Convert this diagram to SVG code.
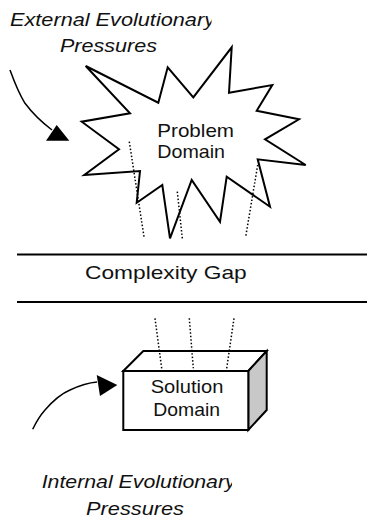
<svg xmlns="http://www.w3.org/2000/svg" width="367" height="521" viewBox="0 0 367 521">
<style>
.t{font-family:"Liberation Sans",Arial,sans-serif;font-size:19px;fill:#111}
.i{font-style:italic}
.s{fill:#fff;stroke:#000;stroke-width:2;stroke-linejoin:miter}
.d{stroke:#000;stroke-width:1.5;stroke-dasharray:1.5 2;fill:none}
.c{fill:none;stroke:#000;stroke-width:1.5}
.h{stroke:#000;stroke-width:2}
</style>
<defs>
<clipPath id="c1"><rect x="0" y="0" width="211.5" height="40"/></clipPath>
<clipPath id="c2"><rect x="0" y="460" width="232" height="40"/></clipPath>
</defs>
<rect width="367" height="521" fill="#fff"/>
<g id="ext-label">
<text class="t i" x="10" y="26" font-size="20" textLength="205" lengthAdjust="spacingAndGlyphs" clip-path="url(#c1)">External Evolutionary</text>
<text class="t i" x="60" y="52" font-size="20" textLength="97" lengthAdjust="spacingAndGlyphs">Pressures</text>
</g>
<g id="problem">
<polygon class="s" points="85.7,66 158.3,102.7 167.7,67.3 193.3,97.3 231.7,47.3 229,92.7 272.3,85 256.7,110.7 299,119.3 265,139.3 305.7,165 257.7,159.3 270,206.7 226.7,176.7 220,221.7 191.7,180 170,238.3 162.3,185 136.7,202.7 140,171 84.3,175 119,149.3 81.7,121.7 130,113.3"/>
<text class="t" x="157.3" y="136.5" font-size="18.5" textLength="76.7" lengthAdjust="spacingAndGlyphs">Problem</text>
<text class="t" x="157.3" y="157.5" font-size="18.5" textLength="67.7" lengthAdjust="spacingAndGlyphs">Domain</text>
</g>
<g id="gap">
<line class="h" x1="17" y1="254.5" x2="367" y2="254.5"/>
<line class="h" x1="17" y1="302" x2="367" y2="302"/>
<text class="t" x="85" y="279" font-size="20" textLength="161.7" lengthAdjust="spacingAndGlyphs">Complexity Gap</text>
</g>
<g id="solution">
<polygon class="s" points="123.3,371 143.3,351 266.7,351 248.3,371"/>
<polygon points="248.3,371 266.7,351 266.7,410 248.3,430" fill="#c8c8c8" stroke="#000" stroke-width="2"/>
<rect class="s" x="123.3" y="371" width="125" height="59"/>
<text class="t" x="150.7" y="393" textLength="72.7" lengthAdjust="spacingAndGlyphs">Solution</text>
<text class="t" x="153.3" y="416" textLength="66.7" lengthAdjust="spacingAndGlyphs">Domain</text>
</g>
<g id="int-label">
<text class="t i" x="41.7" y="488" font-size="20" textLength="194" lengthAdjust="spacingAndGlyphs" clip-path="url(#c2)">Internal Evolutionary</text>
<text class="t i" x="86" y="515" font-size="20" textLength="98" lengthAdjust="spacingAndGlyphs">Pressures</text>
</g>
<g id="connectors">
<line class="d" x1="129.3" y1="141.7" x2="144" y2="236.7"/>
<line class="d" x1="177.3" y1="191.7" x2="182.3" y2="238.3"/>
<line class="d" x1="257.7" y1="165" x2="245.7" y2="236.7"/>
<line class="d" x1="155" y1="318.3" x2="161.7" y2="368.3"/>
<line class="d" x1="189.3" y1="318.3" x2="193.3" y2="368.3"/>
<line class="d" x1="234" y1="318.3" x2="226.7" y2="368.3"/>
<path class="c" d="M10,70 Q18,92 25,103.3 Q36,118 52,130"/>
<polygon points="46,140.7 69.3,140.7 56.7,125" fill="#000"/>
<path class="c" d="M32.7,429.3 Q38,418 45,410 Q58,395 70,390 Q85,383 97,382"/>
<polygon points="96.7,375 117.3,385 100,396" fill="#000"/>
</g>
</svg>
